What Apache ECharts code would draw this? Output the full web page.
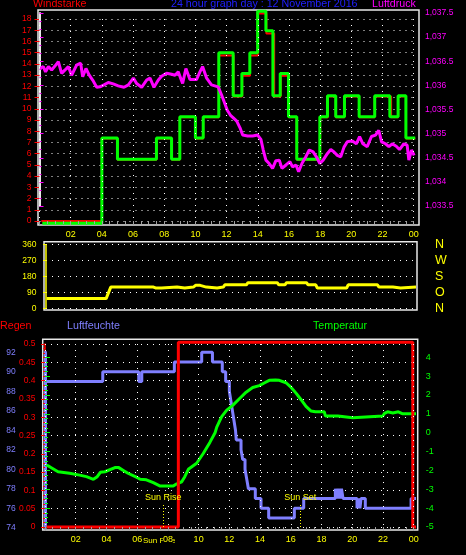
<!DOCTYPE html>
<html><head><meta charset="utf-8">
<script src="https://cdn.jsdelivr.net/npm/echarts/dist/echarts.min.js"></script>
<style>html,body{margin:0;padding:0;background:#000;}#c{width:466px;height:555px;}</style>
</head><body><div id="c"></div>
<script>
// ---------- DATA ----------
const hourTicks = [0, 2, 4, 6, 8, 10, 12, 14, 16, 18, 20, 22, 24];

// Wind speed (Windstärke) – green (gust) step line
const windHours = [0.18,4.0,5.0,7.5,8.47,9.0,10.0,10.5,11.5,12.42,12.98,13.49,13.99,14.52,14.97,15.44,15.97,16.5,17.98,18.47,19.0,19.56,20.5,21.5,22.47,23.0,23.5,24.1];
const windGust  = [-0.2,7.4,5.5,7.4,5.5,9.3,7.4,9.3,15.0,11.15,13.15,15.0,18.7,16.95,11.15,13.15,9.3,5.5,9.3,11.15,9.3,11.15,9.3,11.15,9.3,11.15,7.4,7.4];
// Wind speed – red (mean) step line
const windMeanHours = [0.12,4.0,5.0,7.5,8.5,9.0,10.0,10.5,11.5,12.45,13.0,13.5,14.0,14.55,15.05,15.47,16.0,16.5,18.0,18.5,19.0,19.56,20.5,21.5,22.55,23.0,23.5,24.1];
const windMean      = [0,7.35,5.45,7.35,5.45,9.25,7.35,9.25,14.75,11.1,12.95,14.75,18.5,16.7,11.1,12.95,9.25,5.45,9.25,11.1,9.25,11.1,9.25,11.1,9.25,11.1,7.35,7.35];

// Air pressure (Luftdruck)
const pressHours = [0.03,0.24,0.39,0.57,0.78,0.99,1.21,1.42,1.64,1.85,2.06,2.38,2.64,2.77,2.98,3.19,3.41,3.67,3.88,4.14,4.41,4.73,5.05,5.42,5.70,6.02,6.23,6.55,6.87,7.09,7.34,7.62,7.83,8.15,8.47,8.69,8.90,9.18,9.39,9.65,10.07,10.29,10.46,10.72,11.03,11.46,11.68,11.89,12.05,12.25,12.45,12.65,12.86,13.03,13.35,13.67,13.99,14.2,14.35,14.52,14.73,14.95,15.16,15.38,15.55,15.81,16.06,16.23,16.45,16.62,16.83,17.08,17.30,17.55,17.76,17.98,18.19,18.47,18.68,18.89,19.1,19.32,19.53,19.74,20.06,20.32,20.53,20.74,21.02,21.29,21.55,21.76,21.94,22.19,22.41,22.62,22.88,23.09,23.37,23.58,23.69,23.86,24.03];
const pressValues = [1036.35,1036.39,1036.28,1036.39,1036.32,1036.40,1036.49,1036.25,1036.32,1036.39,1036.21,1036.42,1036.46,1036.18,1036.35,1036.21,1036.11,1035.96,1035.97,1036.01,1036.06,1036.03,1035.99,1035.96,1036.01,1036.15,1036.04,1035.96,1036.11,1036.15,1035.96,1036.11,1036.19,1036.25,1036.23,1036.21,1036.28,1036.04,1036.35,1036.12,1036.12,1036.28,1036.39,1036.15,1036.01,1035.97,1035.80,1035.62,1035.48,1035.38,1035.32,1035.26,1035.12,1034.97,1034.95,1034.95,1034.97,1034.88,1034.66,1034.45,1034.38,1034.28,1034.44,1034.45,1034.28,1034.35,1034.42,1034.31,1034.35,1034.21,1034.38,1034.52,1034.66,1034.62,1034.52,1034.38,1034.45,1034.59,1034.67,1034.62,1034.55,1034.52,1034.72,1034.83,1034.85,1034.79,1034.94,1034.79,1034.73,1034.94,1034.97,1035.07,1034.83,1034.79,1034.73,1034.79,1034.74,1034.67,1034.79,1034.76,1034.45,1034.66,1034.55];

// Wind direction
const dirTicks = [0, 90, 180, 270, 360];
const dirNames = ['N', 'O', 'S', 'W', 'N'];
const dirHours  = [0.05,3.9,4.2,6.97,7.1,7.5,7.6,8.5,8.6,9.0,9.1,9.56,9.7,10.0,10.1,10.4,10.5,11.1,11.2,11.5,11.6,13.0,13.1,15.0,15.1,15.5,15.6,16.9,17.0,17.5,17.6,19.5,19.6,21.5,21.6,22.5,22.6,23.0,23.1,24.0];
const dirValues = [55,55,120,120,115,115,120,120,115,115,120,120,130,130,120,120,115,115,120,120,133,133,145,145,133,133,145,145,133,133,115,115,133,133,120,120,115,115,120,120];

// Rain (Regen)
const rainHours  = [0.1,8.68,8.68,23.94,23.94,24.15];
const rainValues = [0,0,0.505,0.505,0,0];

// Humidity (Luftfeuchte) – step
const humHours  = [0.1,3.76,6.1,6.3,8.42,10.2,10.9,11.54,11.76,12.0,12.1,12.2,12.3,12.4,12.45,12.76,12.87,13.02,13.13,13.24,13.69,14.06,14.56,16.23,16.84,18.9,19.0,19.1,19.2,19.3,19.4,19.55,20.31,20.4,20.5,20.57,20.85,23.83,24.15];
const humValues = [89,90,89,90,91,92,91,90,89,88,87,86,85,84,83,82,81,80,79,78,77,76,75,76,77,78,77,78,77,78,77,77,76,77,76,77,76,77,77];

// Temperature (Temperatur)
const tempHours  = [0.1,0.3,0.85,1.6,2.25,2.7,3.15,3.4,3.6,3.9,4.55,4.8,5.1,5.4,5.95,6.2,6.6,7.05,7.5,8.35,8.55,8.9,9.1,9.33,9.87,10.3,10.74,11.07,11.18,11.5,11.83,12.22,12.65,13.09,13.52,13.95,14.3,14.6,15.0,15.25,15.69,16.02,16.34,16.67,16.99,17.32,17.6,18.18,18.25,19.06,19.1,20.03,20.1,21.99,22.1,22.3,22.64,23.0,23.29,24.15];
const tempValues = [-1.71,-1.8,-2.07,-2.15,-2.25,-2.33,-2.47,-2.33,-2.1,-2.07,-1.85,-1.85,-2.0,-2.15,-2.36,-2.47,-2.5,-2.65,-2.83,-2.83,-2.72,-2.6,-2.33,-1.94,-1.62,-1.1,-0.5,0.0,0.3,0.85,1.2,1.45,1.8,2.15,2.4,2.5,2.65,2.78,2.8,2.78,2.65,2.4,2.1,1.75,1.4,1.15,1.11,1.11,0.89,0.89,0.8,0.8,0.89,0.89,1.03,1.11,1.05,1.11,1.0,1.0];

const sunRise = 7.70;
const sunSet = 16.62;

// ---------- CHART ----------
const FONT = '"Liberation Sans", Arial, sans-serif';
const GREEN = '#00ff00', RED = '#ff0000', MAG = '#ff00ff', YEL = '#ffff00', HUM = '#7f7fff', BLUE = '#2020ff';
const pairs = (h, v) => h.map((x, i) => [x, v[i]]);
const dotted = { color: '#ffffff', width: 1, type: [1, 5] };
const hourFmt = v => { const h = Math.round(v) % 24; return (h < 10 ? '0' : '') + h; };

function hiddenX(g) { return { gridIndex: g, type: 'value', min: hourTicks[0], max: hourTicks[hourTicks.length - 1], show: false }; }
function labeledX(g, off) {
  return {
    gridIndex: g, type: 'value', min: hourTicks[0], max: hourTicks[hourTicks.length - 1], interval: 2,
    position: 'bottom', offset: off, z: 5,
    axisLine: { show: false },
    axisTick: { show: true, length: 4, lineStyle: { color: '#a0a0a0' } },
    minorTick: { show: true, splitNumber: 4, length: 3, lineStyle: { color: '#a0a0a0' } },
    axisLabel: { color: YEL, fontSize: 9, fontFamily: FONT, margin: 5, formatter: hourFmt, showMinLabel: false, showMaxLabel: true, backgroundColor: '#000', padding: [0, 0] },
    splitLine: { show: true, lineStyle: dotted }
  };
}
const frame = (l, t, w, h) => ({ left: l, top: t, width: w, height: h, show: true, borderColor: '#e8e8e8', borderWidth: 1.5, backgroundColor: 'transparent', outerBoundsMode: 'none' });
const grid = (l, t, w, h) => ({ left: l, top: t, width: w, height: h, outerBoundsMode: 'none' });

const texts = [
  { t: 'Windstärke', x: 33, y: 4.5, c: RED },
  { t: '24 hour graph day : 12 November 2016', x: 171, y: 4.5, c: BLUE },
  { t: 'Luftdruck', x: 372, y: 4.5, c: MAG },
  { t: 'Regen', x: 0, y: 326.5, c: RED },
  { t: 'Luftfeuchte', x: 67, y: 326.5, c: HUM },
  { t: 'Temperatur', x: 313, y: 326.5, c: GREEN }
].map(o => ({ type: 'text', x: o.x, y: o.y, z: 10, style: { text: o.t, fill: o.c, font: '10.7px ' + FONT, textAlign: 'left', verticalAlign: 'middle', textVerticalAlign: 'middle' } }));
texts.push({ type: 'text', x: 143, y: 541, z: 0, zlevel: 0, style: { text: 'Sun Rise', fill: YEL, font: '8px ' + FONT, textAlign: 'left', verticalAlign: 'middle', textVerticalAlign: 'middle' } });

const option = {
  backgroundColor: '#000',
  animation: false,
  graphic: texts,
  grid: [
    grid(39.5, 19, 374.2, 202),     // 0 wind
    grid(39.5, 13, 374.2, 193),     // 1 pressure
    grid(46, 244.7, 370, 63.6),     // 2 direction
    grid(45, 344, 368.7, 183),      // 3 rain
    grid(45, 352.3, 368.7, 175.4),  // 4 humidity
    grid(45, 357.3, 368.7, 169.7),  // 5 temperature
    frame(38, 10, 381, 215),        // 6
    frame(44, 241.7, 373, 68.3),    // 7
    frame(42.7, 339.3, 375, 190.7)  // 8
  ],
  xAxis: [
    labeledX(0, 4),
    hiddenX(1),
    hiddenX(2),
    labeledX(3, 3),
    hiddenX(4),
    hiddenX(5),
    hiddenX(6), hiddenX(7), hiddenX(8)
  ],
  yAxis: [
    { gridIndex: 0, type: 'value', min: 0, max: 18, interval: 1, position: 'left',
      axisLine: { show: false }, axisTick: { show: true, length: 5, lineStyle: { color: RED } },
      axisLabel: { color: RED, fontSize: 8.5, fontFamily: FONT, margin: 8 },
      splitLine: { show: true, lineStyle: dotted } },
    { gridIndex: 1, type: 'value', min: 1033.5, max: 1037.5, interval: 0.5, position: 'right', offset: 5.3,
      axisLine: { show: true, lineStyle: { color: '#e8e8e8', width: 2 } },
      axisTick: { show: true, length: 4, lineStyle: { color: MAG } },
      minorTick: { show: true, splitNumber: 3, length: 2, lineStyle: { color: MAG } },
      axisLabel: { color: MAG, fontSize: 8.5, fontFamily: FONT, margin: 6 },
      splitLine: { show: false } },
    { gridIndex: 2, type: 'value', min: dirTicks[0], max: dirTicks[4], interval: 90, position: 'left', offset: 3.5,
      axisLine: { show: true, lineStyle: { color: YEL, width: 1.5 } },
      axisTick: { show: true, length: 3, lineStyle: { color: YEL } },
      axisLabel: { color: YEL, fontSize: 8.5, fontFamily: FONT, margin: 6 },
      splitLine: { show: true, lineStyle: dotted } },
    { gridIndex: 2, type: 'value', min: dirTicks[0], max: dirTicks[4], interval: 90, position: 'right',
      axisLine: { show: false }, axisTick: { show: false }, splitLine: { show: false },
      axisLabel: { color: YEL, fontSize: 12.5, fontFamily: FONT, margin: 19,
        formatter: v => dirNames[dirTicks.indexOf(Math.round(v))] || '' } },
    { gridIndex: 3, type: 'value', min: 0, max: 0.5, interval: 0.05, position: 'left', offset: 2.5,
      axisLine: { show: true, lineStyle: { color: RED, width: 1.5 } },
      axisTick: { show: true, length: 4, lineStyle: { color: RED } },
      minorTick: { show: true, splitNumber: 4, length: 2, lineStyle: { color: RED } },
      axisLabel: { color: RED, fontSize: 8.5, fontFamily: FONT, margin: 7, formatter: v => String(+v.toFixed(2)) },
      splitLine: { show: true, lineStyle: dotted } },
    { gridIndex: 4, type: 'value', min: 74, max: 92, interval: 2, position: 'left', offset: 23.3,
      axisLine: { show: true, lineStyle: { color: HUM, width: 3 } },
      axisTick: { show: false },
      axisLabel: { color: HUM, fontSize: 8.5, fontFamily: FONT, margin: 6 },
      splitLine: { show: false } },
    { gridIndex: 5, type: 'value', min: -5, max: 4, interval: 1, position: 'right', offset: 5,
      axisLine: { show: false },
      axisTick: { show: true, length: 5, lineStyle: { color: GREEN } },
      minorTick: { show: true, splitNumber: 4, length: 3, lineStyle: { color: GREEN } },
      axisLabel: { color: GREEN, fontSize: 9, fontFamily: FONT, margin: 7 },
      splitLine: { show: false } },
    { gridIndex: 6, type: 'value', show: false },
    { gridIndex: 7, type: 'value', show: false },
    { gridIndex: 8, type: 'value', show: false }
  ],
  series: [
    { type: 'line', xAxisIndex: 0, yAxisIndex: 0, data: pairs(windMeanHours, windMean), step: 'end', symbol: 'none', clip: false,
      lineStyle: { color: RED, width: 2 }, z: 2 },
    { type: 'line', xAxisIndex: 0, yAxisIndex: 0, data: pairs(windHours, windGust), step: 'end', symbol: 'none', clip: false,
      lineStyle: { color: GREEN, width: 3 }, z: 3 },
    { type: 'line', xAxisIndex: 1, yAxisIndex: 1, data: pairs(pressHours, pressValues), symbol: 'none', clip: false,
      lineStyle: { color: MAG, width: 3 }, z: 4 },
    { type: 'line', xAxisIndex: 2, yAxisIndex: 2, data: pairs(dirHours, dirValues), symbol: 'none', clip: false,
      lineStyle: { color: YEL, width: 3 }, z: 3 },
    { type: 'line', xAxisIndex: 4, yAxisIndex: 5, data: pairs(humHours, humValues), step: 'end', symbol: 'none', clip: false,
      lineStyle: { color: HUM, width: 3 }, z: 2 },
    { type: 'line', xAxisIndex: 5, yAxisIndex: 6, data: pairs(tempHours, tempValues), symbol: 'none', clip: false,
      lineStyle: { color: GREEN, width: 3 }, z: 3 },
    { type: 'line', xAxisIndex: 3, yAxisIndex: 4, data: pairs(rainHours, rainValues), symbol: 'none', clip: false,
      lineStyle: { color: RED, width: 3 }, z: 4,
      markLine: { symbol: 'none', silent: true, animation: false,
        lineStyle: { color: YEL, type: [1, 2], width: 1 },
        label: { show: true, position: 'end', formatter: '{b}', color: YEL, fontSize: 9, fontFamily: FONT, distance: 2 },
        data: [
          [{ name: 'Sun Rise', coord: [sunRise, 0] }, { name: 'Sun Rise', coord: [sunRise, 0.063] }],
          [{ name: 'Sun Set', coord: [sunSet, 0] }, { name: 'Sun Set', coord: [sunSet, 0.063] }]
        ] } }
  ]
};
const chart = echarts.init(document.getElementById('c'), null, { renderer: 'canvas' });
chart.setOption(option);
</script>
</body></html>
